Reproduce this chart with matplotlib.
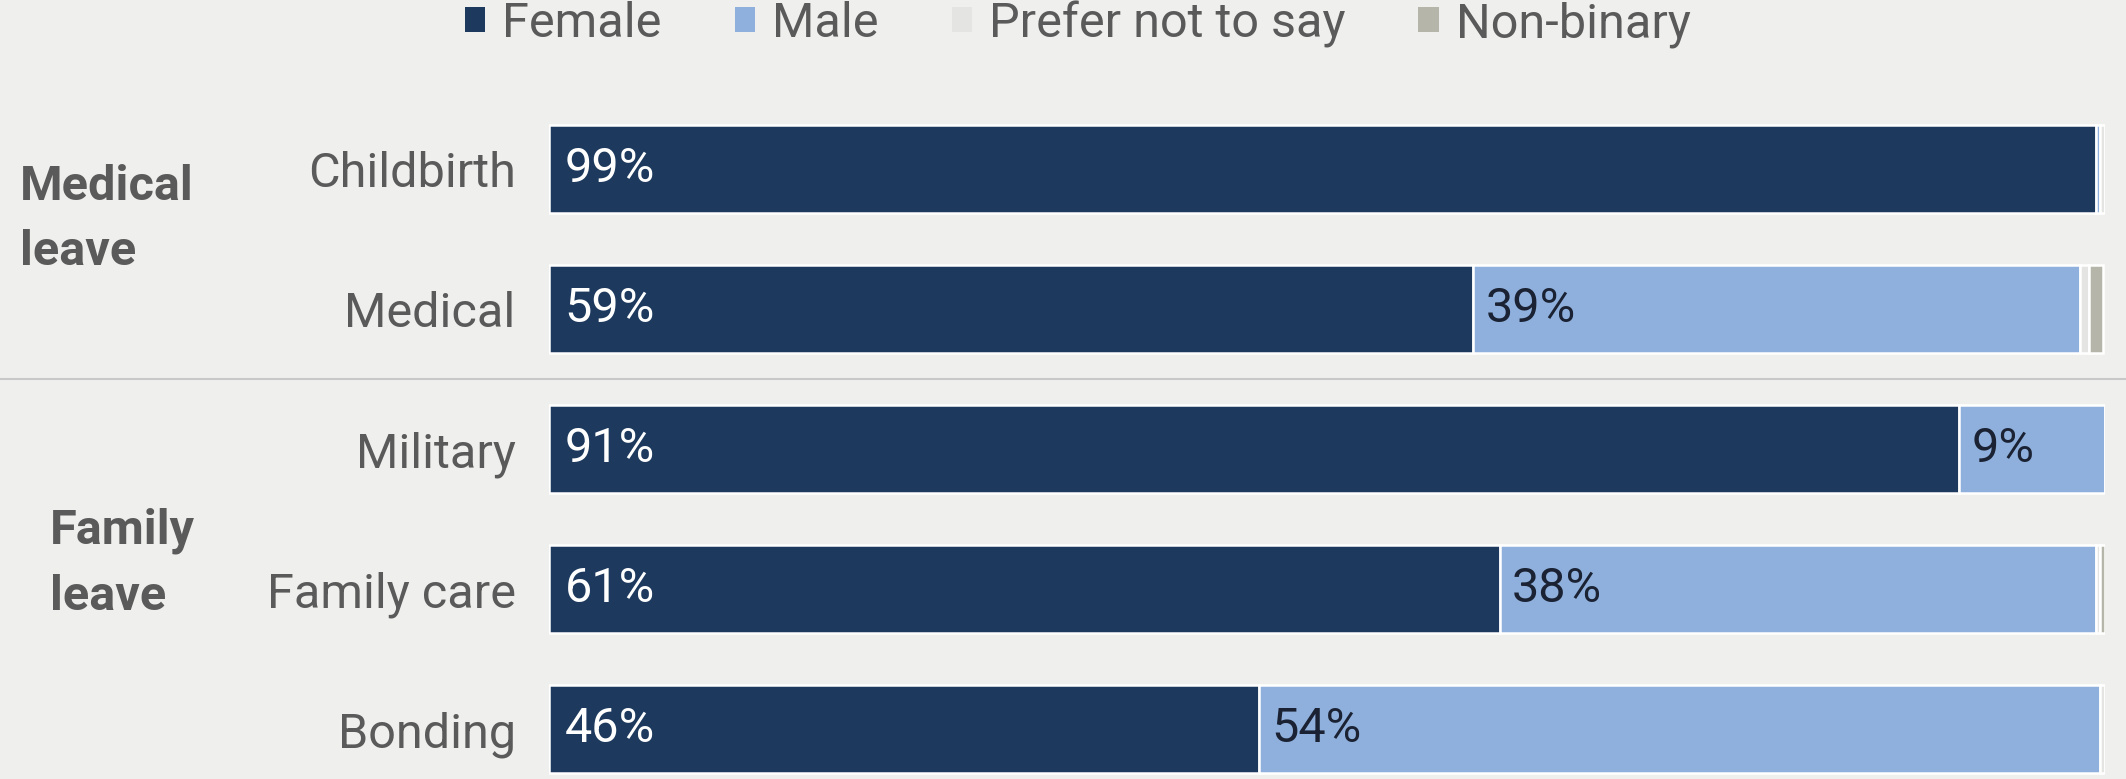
import matplotlib
matplotlib.use("Agg")
import matplotlib.pyplot as plt
import matplotlib.transforms as mtransforms
from matplotlib.patches import Patch

categories = ["Childbirth", "Medical", "Military", "Family care", "Bonding"]
female = [99.4, 59.4, 90.6, 61.1, 45.6]
male = [0.3, 39.0, 9.4, 38.3, 54.1]
prefer_not = [0.3, 0.6, 0.0, 0.3, 0.3]
non_binary = [0.0, 0.9, 0.0, 0.3, 0.0]
series_names = ["Female", "Male", "Prefer not to say", "Non-binary"]
female_labels = ["99%", "59%", "91%", "61%", "46%"]
male_labels = ["", "39%", "9%", "38%", "54%"]
groups = ["Medical\nleave", "Family\nleave"]

BG = "#efefed"
colors = ["#1d3a5e", "#8fb0dc", "#e4e4e2", "#b5b5aa"]
TXT = "#5a5a5a"
FONT = "Roboto"
FS = 35

plt.rcParams['font.family'] = [FONT, 'DejaVu Sans']

fig = plt.figure(figsize=(21.26, 7.79), dpi=100, facecolor=BG)
ax = fig.add_axes([549/2126, 0, (2105-549)/2126, 1 - 99/779])
ax.set_facecolor(BG)

y = list(range(len(categories)))
left = [0.0]*len(categories)
for vals, col, name in zip([female, male, prefer_not, non_binary], colors, series_names):
    ax.barh(y, vals, left=left, height=0.63, color=col, edgecolor="white",
            linewidth=1.8, label=name)
    left = [l + v for l, v in zip(left, vals)]

for i in y:
    ax.text(1.0, i, female_labels[i], color="white", fontsize=FS, va="center", ha="left")
    if male_labels[i]:
        ax.text(female[i] + 0.8, i, male_labels[i], color="#1a2233", fontsize=FS,
                va="center", ha="left")

ax.set_xlim(0, 100)
ax.set_ylim(4.357, -0.5)
ax.set_yticks(y)
ax.set_yticklabels(categories, fontsize=FS, color=TXT)
ax.tick_params(axis="y", length=0, pad=24)
ax.set_xticks([])
for s in ax.spines.values():
    s.set_visible(False)

# separator line between groups
trans = mtransforms.blended_transform_factory(fig.transFigure, ax.transData)
ax.plot([0, 1], [1.5, 1.5], transform=trans, color="#c8c8c8", lw=1.5, clip_on=False)

# group labels
ax.text(20/2126, 0.36, groups[0], transform=trans, fontsize=FS, fontweight="bold",
        color=TXT, ha="left", va="center", linespacing=1.55)
ax.text(50/2126, 2.82, groups[1], transform=trans, fontsize=FS, fontweight="bold",
        color=TXT, ha="left", va="center", linespacing=1.55)

handles = [Patch(facecolor=c, edgecolor="none") for c in colors]
fig.legend(handles, series_names, loc="center", bbox_to_anchor=(0.507, 1 - 24/779),
           ncol=4, frameon=False, fontsize=FS, labelcolor=TXT, handlelength=0.42,
           handleheight=0.42, handletextpad=0.35, columnspacing=1.5)

fig.savefig("out.png", dpi=100, facecolor=BG)
